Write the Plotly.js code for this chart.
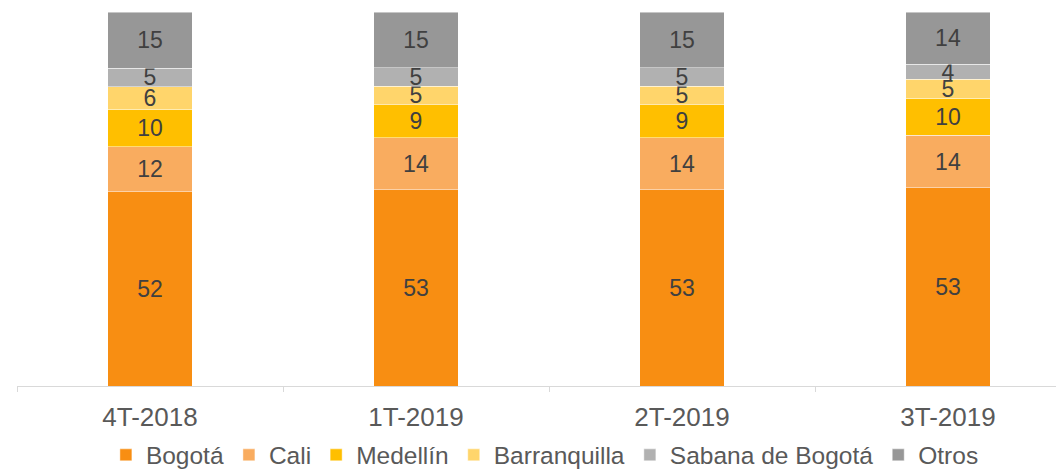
<!DOCTYPE html>
<html>
<head>
<meta charset="utf-8">
<script src="https://cdn.plot.ly/plotly-3.0.1.min.js"></script>
<style>html,body{margin:0;padding:0;background:#fff;}#chart{width:1056px;height:469px;}</style>
</head>
<body>
<div id="chart"></div>
<script>
var periods = ["4T-2018", "1T-2019", "2T-2019", "3T-2019"];
var seriesNames = ["Bogotá", "Cali", "Medellín", "Barranquilla", "Sabana de Bogotá", "Otros"];
var bogota = [52, 53, 53, 53];
var cali = [12, 14, 14, 14];
var medellin = [10, 9, 9, 10];
var barranquilla = [6, 5, 5, 5];
var sabana = [5, 5, 5, 4];
var otros = [15, 15, 15, 14];
var colors = ["#F88E12", "#F9AC5F", "#FFBF00", "#FFD56B", "#B1B1B1", "#979797"];

var allSeries = [bogota, cali, medellin, barranquilla, sabana, otros];
var traces = allSeries.map(function(vals, i){
  return {
    type: "bar",
    name: seriesNames[i],
    x: periods,
    y: vals,
    customdata: vals,
    texttemplate: "%{customdata}",
    textposition: "inside",
    insidetextanchor: "middle",
    textangle: 0,
    constraintext: "none",
    textfont: {family: "Liberation Sans, Arial, sans-serif", size: 23, color: "#404040"},
    marker: {color: colors[i], line: {color: "rgba(255,255,255,0.6)", width: 0.75}},
    hoverinfo: "skip"
  };
});

var layout = {
  width: 1056,
  height: 469,
  barmode: "stack",
  barnorm: "percent",
  bargap: 0.684,
  margin: {l: 17, r: 0, t: 12, b: 83},
  paper_bgcolor: "#ffffff",
  plot_bgcolor: "#ffffff",
  showlegend: true,
  legend: {
    orientation: "h",
    xref: "container",
    yref: "container",
    x: 0.516,
    xanchor: "center",
    y: 0.03,
    yanchor: "middle",
    font: {family: "Liberation Sans, Arial, sans-serif", size: 24.5, color: "#595959"},
    itemwidth: 30,
    tracegroupgap: 0,
    traceorder: "normal"
  },
  xaxis: {
    type: "category",
    range: [-0.5, 3.406],
    showline: true,
    linecolor: "#d9d9d9",
    linewidth: 1,
    ticks: "outside",
    tickson: "boundaries",
    ticklen: 5,
    tickcolor: "#d9d9d9",
    ticklabelstandoff: 8,
    showgrid: false,
    zeroline: false,
    tickfont: {family: "Liberation Sans, Arial, sans-serif", size: 26, color: "#595959"}
  },
  yaxis: {
    range: [0, 100],
    visible: false,
    showgrid: false,
    zeroline: false
  }
};

Plotly.newPlot("chart", traces, layout, {displayModeBar: false, staticPlot: true});
</script>
</body>
</html>
